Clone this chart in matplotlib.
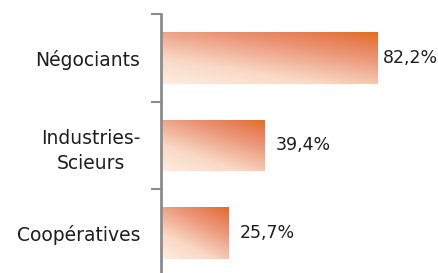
import numpy as np
import matplotlib.pyplot as plt
from matplotlib.colors import LinearSegmentedColormap
from matplotlib.patches import Rectangle

# données
categories = ["Négociants", "Industries-\nScieurs", "Coopératives"]
valeurs = [82.2, 39.4, 25.7]
etiquettes = ["82,2%", "39,4%", "25,7%"]

plt.rcParams['font.family'] = ['DejaVu Sans']

fig = plt.figure(figsize=(4.38, 2.73), dpi=100)
# axe placé en pixels : x de 161 à 438, y de 14 à 277
ax = fig.add_axes([161 / 438, (273 - 277) / 273, 277 / 438, 263 / 273])

# dégradé diagonal crème -> orange
cmap = LinearSegmentedColormap.from_list(
    "orange_grad", [(0.0, "#FDEDE0"), (0.3, "#F9D9C6"), (0.5, "#F1B69E"),
                    (0.7, "#EB9374"), (0.85, "#E77F55"), (1.0, "#E46E1C")])

hauteur = 0.59
px_par_pct = 2.628
y_pos = np.arange(len(categories))
for y, v in zip(y_pos, valeurs):
    rect = Rectangle((0, y - hauteur / 2), v, hauteur, facecolor="none",
                     edgecolor="none")
    ax.add_patch(rect)
    # gradient : clair en bas à gauche, foncé en haut à droite
    u = np.linspace(0, 1, 200)[None, :]
    w = np.linspace(1, 0, 60)[:, None]  # haut = 1
    grad = 0.4 * u + 0.6 * w
    im = ax.imshow(grad, cmap=cmap, vmin=0, vmax=1, aspect="auto",
                   extent=(0, v, y + hauteur / 2, y - hauteur / 2),
                   interpolation="bilinear", zorder=2)
    im.set_clip_path(rect)
    # décalage réduit quand l'étiquette touche le bord droit
    decal = 4 if v * px_par_pct > 200 else 8
    ax.annotate(etiquettes[y], (v, y), xytext=(decal, 0),
                textcoords="offset points", va="center", ha="left",
                fontsize=12.5, color="#1E1E1E")

ax.set_xlim(0, 277 / px_par_pct)
ax.set_ylim(2.5, -0.5)

# axe vertical gris, graduations aux limites des catégories
for s in ["top", "right", "bottom"]:
    ax.spines[s].set_visible(False)
ax.spines["left"].set_color("#8C8C8C")
ax.spines["left"].set_linewidth(2)
ax.set_xticks([])
ax.set_yticks(y_pos)
ax.set_yticklabels(categories, fontsize=13.5, color="#1E1E1E")
ax.tick_params(axis="y", which="major", length=0, pad=15)
ax.set_yticks([-0.5, 0.5, 1.5, 2.5], minor=True)
ax.tick_params(axis="y", which="minor", length=7, width=1.5, color="#8C8C8C")
for lbl in ax.get_yticklabels():
    lbl.set_multialignment("center")
    lbl.set_linespacing(1.45)

fig.savefig("out.png", dpi=100)
